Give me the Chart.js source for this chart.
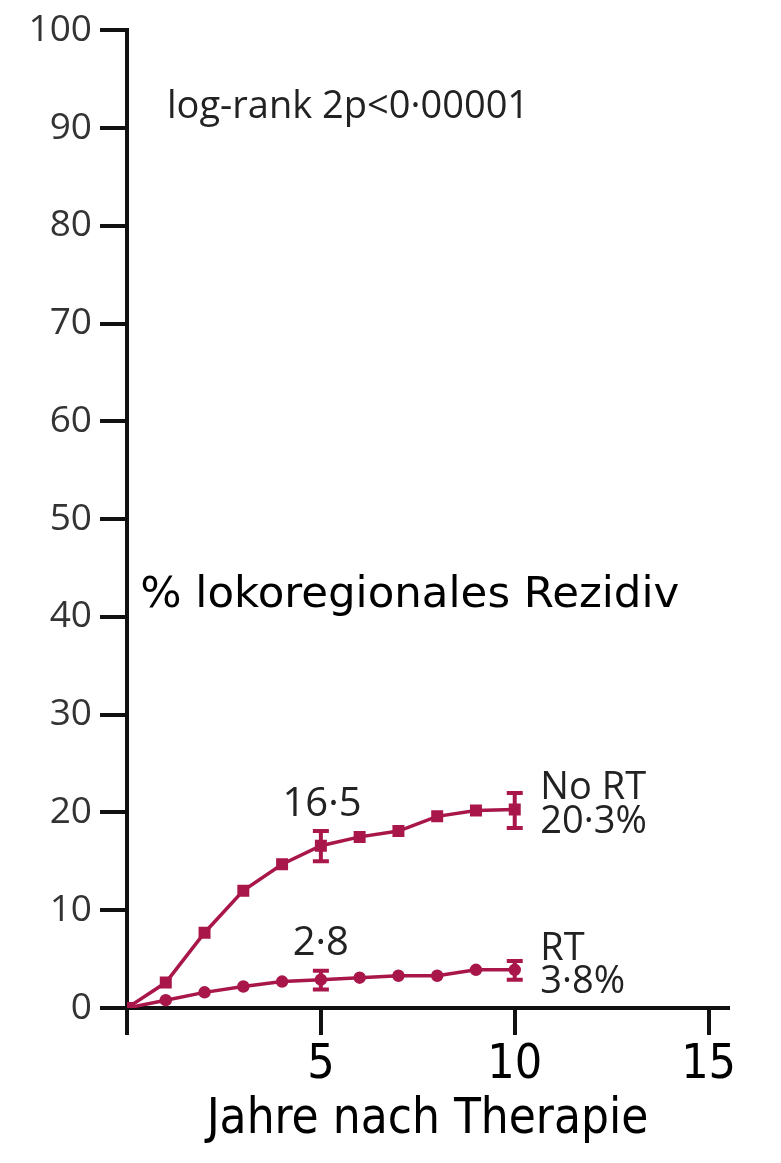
<!DOCTYPE html>
<html>
<head>
<meta charset="utf-8">
<script src="https://cdn.jsdelivr.net/npm/chart.js@4"></script>
<style>
  body { margin: 0; background: #fff; }
  #wrap { width: 781px; height: 1163px; }
</style>
</head>
<body>
<div id="wrap"><canvas id="chart"></canvas></div>
<script>
// Daten
const years = [0, 1, 2, 3, 4, 5, 6, 7, 8, 9, 10];
const noRT = [0, 2.6, 7.7, 12.0, 14.7, 16.6, 17.5, 18.1, 19.6, 20.2, 20.3];
const withRT = [0, 0.8, 1.6, 2.2, 2.7, 2.9, 3.1, 3.3, 3.3, 3.9, 3.9];

// Fehlerbalken (Jahr 5 und 10)
const errYears = [5, 10];
const noRTLow = [15.0, 18.4];
const noRTHigh = [18.1, 22.0];
const withRTLow = [1.9, 2.9];
const withRTHigh = [3.8, 4.8];

const xTicks = [0, 5, 10, 15];
const yTicks = [0, 10, 20, 30, 40, 50, 60, 70, 80, 90, 100];

const LINE_COLOR = '#a8164a';
const AXIS_COLOR = '#111';

// Beschriftungen im Diagramm (in Datenkoordinaten)
const annotations = [
    { text: 'log-rank 2p<0·00001', x: 1.03, y: 91.0, align: 'left', font: '38px "Open Sans"', color: '#222' },
    { text: '% lokoregionales Rezidiv', x: 0.34, y: 41.0, align: 'left', font: '43.5px "DejaVu Sans"', color: '#000' },
    { text: '16·5', x: 5.03, y: 19.6, align: 'center', font: '40px "Open Sans"', color: '#222' },
    { text: '2·8', x: 5.0, y: 5.4, align: 'center', font: '40px "Open Sans"', color: '#222' },
    { text: 'No RT', x: 10.66, y: 21.4, align: 'left', font: '38px "Open Sans"', color: '#222' },
    { text: '20·3%', x: 10.66, y: 17.9, align: 'left', font: '38px "Open Sans"', color: '#222' },
    { text: 'RT', x: 10.66, y: 4.9, align: 'left', font: '38px "Open Sans"', color: '#222' },
    { text: '3·8%', x: 10.66, y: 1.5, align: 'left', font: '38px "Open Sans"', color: '#222' }
];

// Fehlerbalken zeichnen
const errorBarPlugin = {
    id: 'errorBars',
    afterDatasetsDraw(chart) {
        const ctx = chart.ctx;
        const xs = chart.scales.x;
        const ys = chart.scales.y;
        const sets = [[noRTLow, noRTHigh], [withRTLow, withRTHigh]];
        ctx.save();
        ctx.strokeStyle = LINE_COLOR;
        ctx.lineWidth = 4;
        sets.forEach(([low, high]) => {
            errYears.forEach((yr, i) => {
                const px = xs.getPixelForValue(yr);
                const top = ys.getPixelForValue(high[i]);
                const bot = ys.getPixelForValue(low[i]);
                ctx.beginPath();
                ctx.moveTo(px, top);
                ctx.lineTo(px, bot);
                ctx.moveTo(px - 8, top);
                ctx.lineTo(px + 8, top);
                ctx.moveTo(px - 8, bot);
                ctx.lineTo(px + 8, bot);
                ctx.stroke();
            });
        });
        ctx.restore();
    }
};

// Texte zeichnen
const annotationPlugin = {
    id: 'annotations',
    afterDraw(chart) {
        const ctx = chart.ctx;
        const xs = chart.scales.x;
        const ys = chart.scales.y;
        ctx.save();
        ctx.textBaseline = 'alphabetic';
        annotations.forEach(a => {
            ctx.font = a.font;
            ctx.fillStyle = a.color;
            ctx.textAlign = a.align;
            ctx.fillText(a.text, xs.getPixelForValue(a.x), ys.getPixelForValue(a.y));
        });
        ctx.restore();
    }
};

new Chart(document.getElementById('chart'), {
    type: 'line',
    data: {
        labels: years,
        datasets: [
            {
                label: 'No RT',
                data: years.map((x, i) => ({ x: x, y: noRT[i] })),
                borderColor: LINE_COLOR,
                backgroundColor: LINE_COLOR,
                borderWidth: 3.5,
                pointStyle: 'rect',
                pointRadius: 6,
                tension: 0
            },
            {
                label: 'RT',
                data: years.map((x, i) => ({ x: x, y: withRT[i] })),
                borderColor: LINE_COLOR,
                backgroundColor: LINE_COLOR,
                borderWidth: 3.5,
                pointStyle: 'circle',
                pointRadius: 4.5,
                tension: 0
            }
        ]
    },
    options: {
        responsive: true,
        maintainAspectRatio: false,
        animation: false,
        layout: { padding: { top: 24, right: 53, bottom: 0, left: 0 } },
        plugins: {
            legend: { display: false },
            tooltip: { enabled: false }
        },
        scales: {
            x: {
                type: 'linear',
                min: 0,
                max: 15.5,
                afterBuildTicks: scale => { scale.ticks = xTicks.map(v => ({ value: v })); },
                afterFit: scale => { scale.height = 155; },
                grid: { drawOnChartArea: false, drawTicks: true, tickLength: 27, lineWidth: 4, color: AXIS_COLOR },
                border: { display: true, width: 4, color: AXIS_COLOR },
                ticks: {
                    autoSkip: false,
                    maxRotation: 0,
                    padding: 2,
                    color: '#000',
                    font: { family: '"DejaVu Sans Condensed"', size: 48 },
                    callback: v => (v === 0 ? '' : v)
                },
                title: {
                    display: true,
                    text: 'Jahre nach Therapie',
                    color: '#000',
                    font: { family: '"DejaVu Sans Condensed"', size: 49 },
                    padding: { top: 0, bottom: 13 }
                }
            },
            y: {
                min: 0,
                max: 100,
                afterBuildTicks: scale => { scale.ticks = yTicks.map(v => ({ value: v })); },
                afterFit: scale => { scale.width = 127; },
                grid: { drawOnChartArea: false, drawTicks: true, tickLength: 27, lineWidth: 4, color: AXIS_COLOR },
                border: { display: true, width: 4, color: AXIS_COLOR },
                ticks: {
                    padding: 8,
                    color: '#333',
                    font: { family: '"Open Sans"', size: 37 }
                }
            }
        }
    },
    plugins: [errorBarPlugin, annotationPlugin]
});
</script>
</body>
</html>
